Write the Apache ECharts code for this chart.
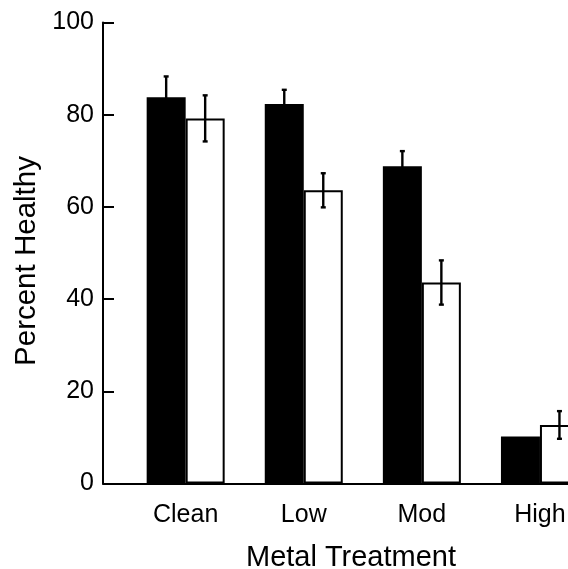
<!DOCTYPE html>
<html>
<head>
<meta charset="utf-8">
<script src="https://cdn.jsdelivr.net/npm/echarts@6/dist/echarts.min.js"></script>
<style>
html,body{margin:0;padding:0;background:#fff;}
#chart{width:568px;height:569px;}
</style>
</head>
<body>
<div id="chart"></div>
<script>
const categories = ['Clean', 'Low', 'Mod', 'High'];
const catPositions = [0, 1, 2, 3];
const blackValues = [83.8, 82.3, 68.8, 10.2];
const blackErrors = [4.5, 3.1, 3.3, 0];
const whiteValues = [79.2, 63.6, 43.6, 12.7];
const whiteErrors = [5.0, 3.7, 4.8, 3.0];
const yTicks = [0, 20, 40, 60, 80, 100];

const FONT = 'Liberation Sans, Arial, Helvetica, sans-serif';
const BAR_W = 39;

function errSeries(vals, errs, offset) {
  return {
    type: 'custom',
    z: 10,
    silent: true,
    data: vals.map((v, i) => [catPositions[i], v, errs[i]]),
    renderItem: function (params, api) {
      const x = api.value(0), v = api.value(1), e = api.value(2);
      if (!e) return null;
      const top = api.coord([x, v + e]);
      const bot = api.coord([x, v - e]);
      const cx = top[0] + offset;
      const cap = 2.5;
      const style = { stroke: '#000', lineWidth: 2.4 };
      return {
        type: 'group',
        children: [
          { type: 'line', shape: { x1: cx, y1: top[1], x2: cx, y2: bot[1] }, style: style },
          { type: 'line', shape: { x1: cx - cap, y1: top[1], x2: cx + cap, y2: top[1] }, style: style },
          { type: 'line', shape: { x1: cx - cap, y1: bot[1], x2: cx + cap, y2: bot[1] }, style: style }
        ]
      };
    }
  };
}

const chart = echarts.init(document.getElementById('chart'), null, { renderer: 'canvas' });
chart.setOption({
  animation: false,
  backgroundColor: '#fff',
  textStyle: { fontFamily: FONT },
  grid: { left: 103, right: -31, top: 22.5, bottom: 85.5, containLabel: false, outerBoundsMode: 'none' },
  xAxis: {
    type: 'value',
    min: -0.7,
    max: 3.5,
    splitLine: { show: false },
    axisLine: { show: true, onZero: false, lineStyle: { color: '#000', width: 2 } },
    axisTick: { show: false },
    axisLabel: {
      customValues: catPositions,
      formatter: function (v) { return categories[Math.round(v)]; },
      color: '#000', fontSize: 25, fontFamily: FONT, margin: 19
    },
    name: 'Metal Treatment',
    nameLocation: 'middle',
    nameGap: 60,
    nameTextStyle: { color: '#000', fontSize: 29, fontFamily: FONT }
  },
  yAxis: {
    type: 'value',
    min: 0,
    max: 100,
    interval: 20,
    splitLine: { show: false },
    axisLine: { show: true, onZero: false, lineStyle: { color: '#000', width: 2 } },
    axisTick: { show: true, inside: true, length: 11, lineStyle: { color: '#000', width: 2 } },
    axisLabel: {
      color: '#000', fontSize: 25, fontFamily: FONT, margin: 9,
      formatter: function (v) { return yTicks.indexOf(v) >= 0 ? String(v) : ''; }
    },
    name: 'Percent Healthy',
    nameLocation: 'middle',
    nameGap: 60,
    nameTextStyle: { color: '#000', fontSize: 29.5, fontFamily: FONT, padding: [0, 16, 0, 0] }
  },
  series: [
    {
      type: 'bar',
      barWidth: BAR_W,
      barGap: '0%',
      data: blackValues.map((v, i) => [catPositions[i], v]),
      itemStyle: { color: '#000', borderColor: '#000', borderWidth: 2 }
    },
    {
      type: 'bar',
      barWidth: BAR_W,
      barGap: '0%',
      data: whiteValues.map((v, i) => [catPositions[i], v]),
      itemStyle: { color: '#fff', borderColor: '#000', borderWidth: 2 }
    },
    errSeries(blackValues, blackErrors, -BAR_W / 2),
    errSeries(whiteValues, whiteErrors, BAR_W / 2)
  ]
});
</script>
</body>
</html>
